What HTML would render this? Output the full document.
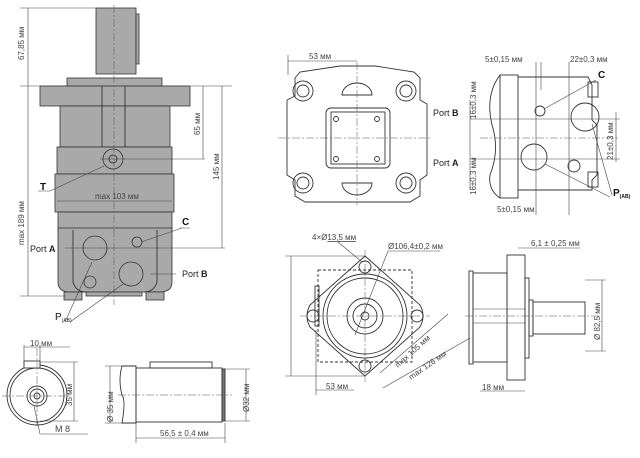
<!DOCTYPE html>
<html><head><meta charset="utf-8"><style>
html,body{margin:0;padding:0;background:#fff;}
svg{display:block;font-family:"Liberation Sans",sans-serif;}
.d{stroke:#444;stroke-width:.6;fill:none}
.c{stroke:#555;stroke-width:.5;stroke-dasharray:8 2 2 2;fill:none}
.o{stroke:#333;stroke-width:.9;fill:none}
.g{fill:#a9a9a9;stroke:#333;stroke-width:.8}
.t{font-size:8px;fill:#444}
.b{font-size:10px;fill:#111}
</style></head><body>
<svg width="640" height="458" viewBox="0 0 640 458" xmlns="http://www.w3.org/2000/svg">
<rect class="g" x="96" y="8" width="40" height="66"/>
<rect class="g" x="136" y="14" width="3" height="50"/>
<rect class="g" x="67" y="78" width="95" height="8"/>
<rect class="g" x="40" y="86" width="150" height="20"/>
<rect class="g" x="60" y="106" width="110" height="41"/>
<rect class="g" x="57" y="147" width="115" height="27"/>
<rect class="g" x="55" y="174" width="119" height="38"/>
<rect class="g" x="58" y="212" width="114" height="20"/>
<path class="g" d="M58 228 H172 V282 Q172 292 160 292 H70 Q58 292 58 282 Z"/>
<path class="o" d="M73 230 V282 Q76 292 86 292 M157 230 V282 Q154 292 144 292"/>
<rect class="g" x="64" y="292" width="18" height="8"/>
<rect class="g" x="146" y="292" width="18" height="8"/>
<rect class="g" x="86" y="292" width="56" height="4"/>
<line class="o" x1="102" y1="86" x2="102" y2="147"/><line class="o" x1="125" y1="86" x2="125" y2="147"/>
<circle class="g" cx="113" cy="159" r="10"/><circle class="o" cx="113" cy="159" r="4"/>
<circle class="g" cx="95" cy="248" r="12"/>
<circle class="g" cx="137" cy="242" r="5"/>
<circle class="g" cx="131" cy="274" r="12"/>
<circle class="g" cx="90" cy="282" r="6"/>
<line class="c" x1="114" y1="5" x2="114" y2="305"/>
<line class="d" x1="100" y1="159" x2="205" y2="159"/>
<line class="d" x1="65" y1="248" x2="225" y2="248"/>
<line class="d" x1="150" y1="274" x2="176" y2="274"/>
<line class="d" x1="20" y1="8" x2="96" y2="8"/><line class="d" x1="20" y1="86" x2="232" y2="86"/>
<line class="d" x1="20" y1="296" x2="66" y2="296"/>
<line class="d" x1="28" y1="8" x2="28" y2="296"/>
<text class="t" transform="translate(24,60) rotate(-90)">67,85 мм</text>
<text class="t" transform="translate(24,245) rotate(-90)">max 189 мм</text>
<line class="d" x1="203" y1="86" x2="203" y2="159"/>
<text class="t" transform="translate(200,135) rotate(-90)">65 мм</text>
<line class="d" x1="222" y1="86" x2="222" y2="248"/>
<text class="t" transform="translate(219,180) rotate(-90)">145 мм</text>
<line class="d" x1="57" y1="201" x2="172" y2="201"/>
<text class="t" x="95" y="199">max 103 мм</text>
<text class="b" x="40" y="190" font-weight="bold">T</text><path class="d" d="M38 191 H50 L104 166"/>
<text class="b" x="182" y="225" font-weight="bold">C</text><path class="d" d="M180 228 H190 M182 228 L141 242"/>
<text class="t" x="30" y="252" style="font-size:9px;fill:#222">Port <tspan font-weight="bold">A</tspan></text>
<text class="t" x="182" y="277" style="font-size:9px;fill:#222">Port <tspan font-weight="bold">B</tspan></text>
<text class="b" x="55" y="320">P<tspan font-size="5" dy="2">(AB)</tspan></text>
<path class="d" d="M65 322 L92 262 M70 322 L123 284"/>
<path class="o" d="M295 78 L300 72 L340 66 H375 L414 72 L420 78 V100 L427 104 V175 L420 180 V196 L410 202 H305 L295 196 V180 L287 175 V100 L295 96 Z"/>
<g class="o">
<circle cx="303" cy="91" r="10"/><circle cx="303" cy="91" r="6"/>
<circle cx="406" cy="91" r="10"/><circle cx="406" cy="91" r="6"/>
<circle cx="303" cy="183" r="10"/><circle cx="303" cy="183" r="6"/>
<circle cx="406" cy="183" r="10"/><circle cx="406" cy="183" r="6"/>
<rect x="326" y="108" width="64" height="60" rx="5"/><rect x="331" y="112" width="54" height="52"/>
<path d="M342 95 A15 12 0 0 1 372 95 Z"/><path d="M342 183 A15 12 0 0 0 372 183 Z"/>
<circle cx="336" cy="119" r="2.5"/><circle cx="377" cy="119" r="2.5"/><circle cx="336" cy="159" r="2.5"/><circle cx="377" cy="159" r="2.5"/>
</g>
<line class="c" x1="278" y1="138" x2="432" y2="138"/><line class="c" x1="357" y1="62" x2="357" y2="205"/>
<line class="d" x1="288" y1="55" x2="288" y2="75"/><line class="d" x1="288" y1="61" x2="357" y2="61"/>
<text class="t" x="309" y="59">53 мм</text>
<path class="o" d="M500 75 Q485 95 492 125 Q500 150 490 175 Q488 190 500 198"/>
<rect class="o" x="500" y="75" width="18" height="123"/>
<path class="o" d="M518 77 H588 L592 85 V120 L597 125 V175 L592 180 V190 H518"/>
<rect class="o" x="588" y="82" width="10" height="15"/><rect class="o" x="588" y="172" width="10" height="15"/>
<g class="o"><circle cx="540" cy="111" r="5"/><circle cx="585" cy="117" r="14"/><circle cx="534" cy="157" r="13"/><circle cx="574" cy="166" r="6"/></g>
<line class="c" x1="480" y1="138" x2="620" y2="138"/>
<line class="d" x1="470" y1="119" x2="620" y2="119"/><line class="d" x1="470" y1="159" x2="620" y2="159"/>
<line class="d" x1="536" y1="62" x2="536" y2="215"/><line class="d" x1="541" y1="62" x2="541" y2="90"/>
<line class="d" x1="569" y1="62" x2="569" y2="215"/>
<text class="t" x="485" y="62">5±0,15 мм</text><text class="t" x="570" y="62">22±0,3 мм</text>
<text class="t" x="497" y="212">5±0,15 мм</text>
<line class="d" x1="470" y1="100" x2="470" y2="190"/>
<text class="t" transform="translate(476,119) rotate(-90)">16±0,3 мм</text>
<text class="t" transform="translate(476,195) rotate(-90)">16±0,3 мм</text>
<line class="d" x1="616" y1="112" x2="616" y2="162"/>
<text class="t" transform="translate(613,160) rotate(-90)">21±0,3 мм</text>
<text class="t" x="433" y="116" style="font-size:9px;fill:#222">Port <tspan font-weight="bold">B</tspan></text>
<text class="t" x="433" y="166" style="font-size:9px;fill:#222">Port <tspan font-weight="bold">A</tspan></text>
<text class="b" x="598" y="78" font-weight="bold">C</text><path class="d" d="M596 80 L544 109"/>
<text class="b" x="613" y="196" font-weight="bold">P<tspan font-size="5" dy="2">(AB)</tspan></text>
<path class="d" d="M612 195 L592 124 M610 197 L545 164"/>
<path class="o" d="M365 256 L420 305 Q426 316 420 327 L365 376 L310 327 Q304 316 310 305 Z"/>
<rect class="o" x="318" y="270" width="94" height="92" style="stroke-dasharray:3 2"/>
<g class="o"><circle cx="365" cy="267" r="6"/><circle cx="313" cy="316" r="6"/><circle cx="417" cy="316" r="6"/><circle cx="365" cy="366" r="6"/>
<circle cx="365" cy="316" r="42"/><circle cx="365" cy="316" r="38"/><circle cx="365" cy="316" r="18"/><circle cx="365" cy="316" r="12"/><circle cx="365" cy="316" r="4"/></g>
<rect class="o" x="315" y="286" width="4" height="40"/>
<line class="c" x1="300" y1="316" x2="430" y2="316"/><line class="c" x1="365" y1="250" x2="365" y2="382"/>
<line class="d" x1="285" y1="256" x2="365" y2="256"/><line class="d" x1="285" y1="376" x2="365" y2="376"/>
<line class="d" x1="291" y1="256" x2="291" y2="376"/>
<line class="d" x1="316" y1="330" x2="316" y2="395"/><line class="d" x1="316" y1="390" x2="354" y2="390"/>
<text class="t" x="326" y="389">53 мм</text>
<line class="d" x1="380" y1="373" x2="448" y2="314"/><line class="d" x1="383" y1="388" x2="470" y2="338"/>
<text class="t" transform="translate(398,368) rotate(-42)">max 105 мм</text>
<text class="t" transform="translate(411,380) rotate(-35)">max 126 мм</text>
<text class="t" x="312" y="240">4×Ø<tspan text-decoration="underline">13,5 мм</tspan></text>
<path class="d" d="M338 242 L362 262"/>
<text class="t" x="388" y="249">Ø106,4±0,2 мм</text>
<path class="d" d="M440 251 H388 L355 335"/>
<rect class="o" x="469" y="271" width="4" height="93"/>
<rect class="o" x="473" y="273" width="34" height="89"/>
<rect class="o" x="507" y="255" width="18" height="125"/>
<rect class="o" x="525" y="278" width="4" height="80"/>
<rect class="o" x="529" y="300" width="4" height="36"/>
<rect class="o" x="533" y="302" width="52" height="32"/>
<line class="c" x1="465" y1="316" x2="600" y2="316"/>
<line class="d" x1="473" y1="309" x2="525" y2="309"/><line class="d" x1="473" y1="323" x2="525" y2="323"/>
<line class="d" x1="585" y1="280" x2="606" y2="280"/><line class="d" x1="585" y1="351" x2="606" y2="351"/>
<line class="d" x1="602" y1="280" x2="602" y2="351"/>
<text class="t" transform="translate(600,340) rotate(-90)">Ø 82,5 мм</text>
<line class="d" x1="480" y1="391" x2="525" y2="391"/><text class="t" x="482" y="390">18 мм</text>
<line class="d" x1="518" y1="248" x2="580" y2="248"/><text class="t" x="531" y="246">6,1 ± 0,25 мм</text>
<circle class="o" cx="37" cy="395" r="30"/><circle class="o" cx="37" cy="395" r="27"/>
<circle class="o" cx="37" cy="396" r="10"/><circle class="o" cx="37" cy="396" r="7"/><circle class="o" cx="37" cy="396" r="3"/>
<rect class="o" x="24" y="361" width="16" height="7" style="fill:#fff"/>
<line class="c" x1="2" y1="396" x2="72" y2="396"/><line class="c" x1="37" y1="348" x2="37" y2="428"/>
<line class="d" x1="24" y1="345" x2="24" y2="361"/><line class="d" x1="40" y1="345" x2="40" y2="361"/>
<line class="d" x1="24" y1="347" x2="70" y2="347"/><text class="t" x="30" y="346">10 мм</text>
<line class="d" x1="40" y1="362" x2="78" y2="362"/><line class="d" x1="40" y1="421" x2="78" y2="421"/>
<line class="d" x1="74" y1="362" x2="74" y2="421"/><text class="t" transform="translate(72,406) rotate(-90)">35 мм</text>
<path class="d" d="M34 406 L40 434 H88"/><text class="t" x="55" y="432" style="font-size:9px">M 8</text>
<path class="o" d="M122 366 H136 V423 H122 Q126 400 122 395 Q118 380 122 366 Z"/>
<rect class="o" x="136" y="368" width="86" height="54"/>
<rect class="o" x="222" y="369" width="3" height="52" style="fill:#777"/>
<rect class="o" x="150" y="362" width="62" height="6"/>
<line class="c" x1="118" y1="395" x2="232" y2="395"/>
<line class="d" x1="105" y1="366" x2="122" y2="366"/><line class="d" x1="105" y1="423" x2="122" y2="423"/>
<line class="d" x1="110" y1="366" x2="110" y2="423"/><text class="t" transform="translate(113,422) rotate(-90)">Ø 35 мм</text>
<line class="d" x1="225" y1="369" x2="250" y2="369"/><line class="d" x1="225" y1="421" x2="250" y2="421"/>
<line class="d" x1="246" y1="369" x2="246" y2="421"/><text class="t" transform="translate(249,412) rotate(-90)">Ø32 мм</text>
<line class="d" x1="136" y1="423" x2="136" y2="443"/><line class="d" x1="225" y1="423" x2="225" y2="443"/>
<line class="d" x1="136" y1="438" x2="225" y2="438"/><text class="t" x="160" y="436">56,5 ± 0,4 мм</text>
</svg>
</body></html>
